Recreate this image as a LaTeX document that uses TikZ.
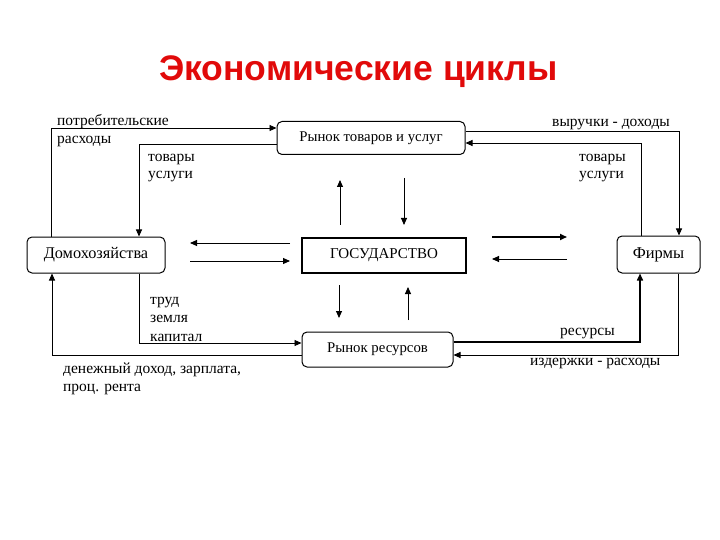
\documentclass[tikz,border=0pt]{standalone}
\usepackage{fontspec}
\setmainfont{Liberation Serif}
\newfontfamily\titlefont{Liberation Sans}
\usetikzlibrary{arrows.meta}
\definecolor{titlered}{RGB}{225,10,10}
\tikzset{
  box/.style={draw, line width=1pt, rounded corners=5pt, inner sep=0pt, font=\fontsize{15}{17}\selectfont},
  arr/.style={line width=0.9pt, -{Triangle[length=7pt,width=6pt]}},
  lbl/.style={anchor=base west, inner sep=0pt, font=\fontsize{15.5}{18}\selectfont},
}
\begin{document}
\begin{tikzpicture}[x=1pt,y=-1pt]
\useasboundingbox (0,0) rectangle (720,540);
\node[font=\titlefont\bfseries\fontsize{35.5}{40}\selectfont, text=titlered, anchor=base] (title) at (358.5,81) {Экономические циклы};

\node[box, font=\fontsize{14.8}{17}\selectfont, minimum width=188pt, minimum height=33pt] (mg) at (371,138) {Рынок товаров и услуг};
\node[box, font=\fontsize{16.3}{18}\selectfont, minimum width=138pt, minimum height=36pt] (hh) at (96,255) {Домохозяйства};
\node[box, rounded corners=0pt, line width=1.6pt, minimum width=164pt, minimum height=35pt] (gov) at (384,255.5) {ГОСУДАРСТВО};
\node[box, font=\fontsize{16.5}{18}\selectfont, minimum width=83pt, minimum height=37pt] (firms) at (658.5,254.5) {Фирмы};
\node[box, font=\fontsize{14.8}{17}\selectfont, minimum width=151pt, minimum height=35pt] (mr) at (377.5,349.5) {Рынок ресурсов};

% goods market loop
\draw[arr] (hh.north -| 51,0) |- (mg.west |- 0,128);
\draw[arr] (mg.west |- 0,144) -| (hh.north -| 139,0);
\draw[arr] (mg.east |- 0,131) -| (firms.north -| 679,0);
\draw[arr] (firms.north -| 641,0) |- (mg.east |- 0,143);
% resource market loop
\draw[arr] (hh.south -| 139,0) |- (mr.west |- 0,343);
\draw[arr] (mr.west |- 0,355) -| (hh.south -| 52,0);
\draw[arr, line width=1.5pt] (mr.east |- 0,342) -| (firms.south -| 640,0);
\draw[arr] (firms.south -| 678,0) |- (mr.east |- 0,355);

% government arrows
\coordinate (gl1) at (290,243); \coordinate (gl2) at (190,243);
\coordinate (gl3) at (190,261); \coordinate (gl4) at (290,261);
\coordinate (gr1) at (492,237); \coordinate (gr2) at (567,237);
\coordinate (gr3) at (567,259); \coordinate (gr4) at (492,259);
\coordinate (gu1) at (340,225); \coordinate (gu2) at (340,180);
\coordinate (gu3) at (404,178); \coordinate (gu4) at (404,225);
\coordinate (gd1) at (339,285); \coordinate (gd2) at (339,318);
\coordinate (gd3) at (408,320); \coordinate (gd4) at (408,287);
\draw[arr] (gl1) -- (gl2);
\draw[arr] (gl3) -- (gl4);
\draw[arr, line width=1.6pt] (gr1) -- (gr2);
\draw[arr] (gr3) -- (gr4);
\draw[arr] (gu1) -- (gu2);
\draw[arr] (gu3) -- (gu4);
\draw[arr] (gd1) -- (gd2);
\draw[arr] (gd3) -- (gd4);

% labels
\node[lbl] (l1) at (57,126) {потребительские};
\node[lbl] (l2) at (57,144) {расходы};
\node[lbl] (l3) at (148,162) {товары};
\node[lbl] (l4) at (148,179) {услуги};
\node[lbl] (l5) at (552,127) {выручки - доходы};
\node[lbl] (l6) at (579,162) {товары};
\node[lbl] (l7) at (579,179) {услуги};
\node[lbl] (l8) at (150,304) {труд};
\node[lbl] (l9) at (150,322.5) {земля};
\node[lbl] (l10) at (150,341) {капитал};
\node[lbl] (l11) at (63,373) {денежный доход, зарплата,};
\node[lbl] (l12) at (63,391) {проц. рента};
\node[lbl] (l13) at (560,335) {ресурсы};
\node[lbl] (l14) at (530,365) {издержки - расходы};
\end{tikzpicture}
\end{document}
